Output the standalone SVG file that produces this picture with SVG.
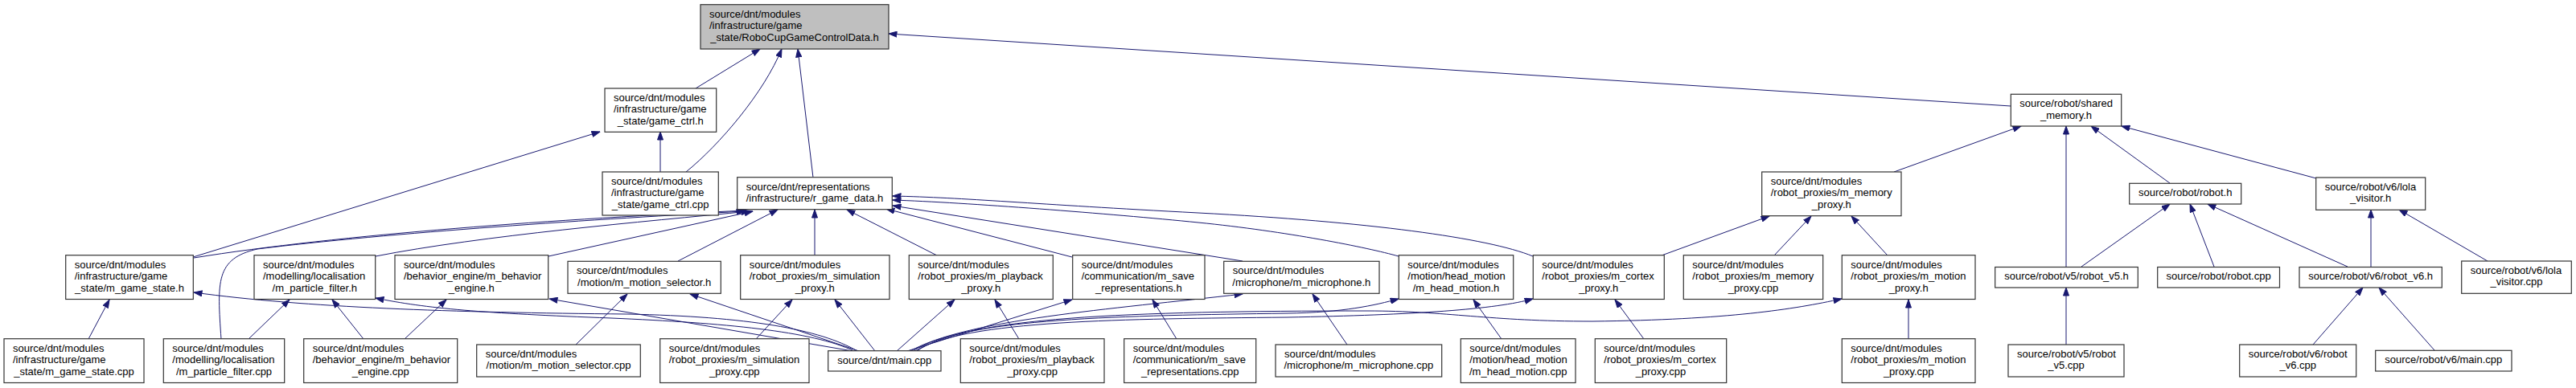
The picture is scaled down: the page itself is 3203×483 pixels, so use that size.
<svg xmlns="http://www.w3.org/2000/svg" width="3203" height="483" viewBox="0 0 3203 483">
<style>
.n rect{fill:#fff;stroke:#333;stroke-width:1.2}
.n text{font-family:"Liberation Sans",Arial,sans-serif;font-size:13px;fill:#000}
.n text.m{text-anchor:middle}
#edges path{fill:none;stroke:#191970;stroke-width:1;marker-end:url(#a)}
</style>
<defs>
<marker id="a" markerUnits="userSpaceOnUse" markerWidth="11" markerHeight="8" viewBox="0 0 11 8" refX="10.5" refY="4" orient="auto">
<path d="M0.5,0.5 L10.5,4 L0.5,7.5 z" fill="#191970" stroke="#191970" stroke-width="1"/>
</marker>
</defs>
<rect width="3203" height="483" fill="#fff"/>
<g id="edges">
<path d="M865,110 L945,61"/>
<path d="M853,214 C895,180 950,115 972,61"/>
<path d="M1011,221 L992,61"/>
<path d="M2500,132 L1105,42"/>
<path d="M240,320 L746,164"/>
<path d="M821,214 L821,164"/>
<path d="M241,321 C420,292 700,272 928,262"/>
<path d="M275,422 C270,350 268,322 320,310 C480,290 750,272 926,263"/>
<path d="M467,319 C600,293 800,276 932,263"/>
<path d="M682,319 L936,263"/>
<path d="M843,325 L967,261"/>
<path d="M1013,318 L1013,261"/>
<path d="M1165,318 L1053,261"/>
<path d="M1333,320 L1102,260"/>
<path d="M1545,325 L1110,256"/>
<path d="M1739,319 C1700,308 1600,288 1490,277 S1200,252 1110,249"/>
<path d="M1906,319 C1850,296 1700,276 1490,265 S1200,246 1110,244"/>
<path d="M1066,437 C1020,410 930,394 780,391 C560,389 380,383 241,364"/>
<path d="M1062,437 C1010,412 900,402 760,396 C600,390 530,384 467,371"/>
<path d="M1060,437 L683,372"/>
<path d="M1068,437 L858,366"/>
<path d="M1088,437 L1038,373"/>
<path d="M1115,437 L1187,373"/>
<path d="M1128,437 L1333,373"/>
<path d="M1132,437 C1200,398 1380,385 1545,366"/>
<path d="M1135,437 C1200,395 1400,393 1600,390 C1670,389 1710,380 1739,372"/>
<path d="M1138,437 C1200,398 1400,397 1600,395 C1760,392 1860,385 1906,372"/>
<path d="M1140,437 C1200,395 1400,387 1700,387 C1800,387 1850,400 1980,400 C2150,398 2230,385 2290,372"/>
<path d="M110,422 L136,373"/>
<path d="M309,422 L360,373"/>
<path d="M452,422 L413,373"/>
<path d="M503,422 L555,373"/>
<path d="M716,429 L780,366"/>
<path d="M940,422 L985,373"/>
<path d="M1267,422 L1237,373"/>
<path d="M1463,422 L1433,373"/>
<path d="M1675,429 L1632,366"/>
<path d="M1867,422 L1832,373"/>
<path d="M2044,422 L2008,373"/>
<path d="M2373,422 L2373,373"/>
<path d="M2066,318 L2200,269"/>
<path d="M2206,318 L2252,269"/>
<path d="M2347,318 L2302,269"/>
<path d="M2355,214 L2513,157"/>
<path d="M2569,333 L2569,157"/>
<path d="M2698,228 L2600,157"/>
<path d="M2880,222 L2638,157"/>
<path d="M2588,332 L2698,254"/>
<path d="M2753,332 L2723,254"/>
<path d="M2919,332 L2745,254"/>
<path d="M2948,332 L2948,261"/>
<path d="M3093,325 L2983,261"/>
<path d="M2569,429 L2569,358"/>
<path d="M2876,429 L2938,358"/>
<path d="M3027,436 L2958,358"/>
</g>
<g id="n_robocup" class="n"><rect x="871" y="5.7" width="234" height="55.3" style="fill:#bfbfbf"/><text x="882" y="21.5">source/dnt/modules</text><text x="882" y="36">/infrastructure/game</text><text class="m" x="988" y="50.5">_state/RoboCupGameControlData.h</text></g>
<g id="n_game_ctrl_h" class="n"><rect x="752" y="110" width="138.7" height="54.3"/><text x="763" y="125.8">source/dnt/modules</text><text x="763" y="140.3">/infrastructure/game</text><text class="m" x="821.3" y="154.8">_state/game_ctrl.h</text></g>
<g id="n_game_ctrl_cpp" class="n"><rect x="749" y="214" width="144.3" height="54"/><text x="760" y="229.8">source/dnt/modules</text><text x="760" y="244.3">/infrastructure/game</text><text class="m" x="821.2" y="258.8">_state/game_ctrl.cpp</text></g>
<g id="n_r_game_data" class="n"><rect x="916.7" y="220.7" width="192.6" height="40"/><text x="927.7" y="236.5">source/dnt/representations</text><text class="m" x="1013" y="251">/infrastructure/r_game_data.h</text></g>
<g id="n_shared_memory" class="n"><rect x="2500.3" y="117.3" width="137.4" height="39.7"/><text x="2511.3" y="133.1">source/robot/shared</text><text class="m" x="2569" y="147.6">_memory.h</text></g>
<g id="n_m_memory_proxy_h" class="n"><rect x="2190.7" y="214" width="173.3" height="54.7"/><text x="2201.7" y="229.8">source/dnt/modules</text><text x="2201.7" y="244.3">/robot_proxies/m_memory</text><text class="m" x="2277.3" y="258.8">_proxy.h</text></g>
<g id="n_robot_h" class="n"><rect x="2647.7" y="228.3" width="139" height="25.7"/><text class="m" x="2717.2" y="244.1">source/robot/robot.h</text></g>
<g id="n_lola_visitor_h" class="n"><rect x="2879.7" y="221" width="136" height="40.3"/><text x="2890.7" y="236.8">source/robot/v6/lola</text><text class="m" x="2947.7" y="251.3">_visitor.h</text></g>
<g id="n_m_game_state_h" class="n"><rect x="81.7" y="317.7" width="158.6" height="54.8"/><text x="92.7" y="333.5">source/dnt/modules</text><text x="92.7" y="348">/infrastructure/game</text><text class="m" x="161" y="362.5">_state/m_game_state.h</text></g>
<g id="n_m_particle_filter_h" class="n"><rect x="316" y="317.7" width="150.7" height="54.8"/><text x="327" y="333.5">source/dnt/modules</text><text x="327" y="348">/modelling/localisation</text><text class="m" x="391.3" y="362.5">/m_particle_filter.h</text></g>
<g id="n_m_behavior_engine_h" class="n"><rect x="491" y="317.7" width="190.7" height="54.8"/><text x="502" y="333.5">source/dnt/modules</text><text x="502" y="348">/behavior_engine/m_behavior</text><text class="m" x="586.3" y="362.5">_engine.h</text></g>
<g id="n_m_motion_selector_h" class="n"><rect x="706" y="325.3" width="190.3" height="40"/><text x="717" y="341.1">source/dnt/modules</text><text class="m" x="801.2" y="355.6">/motion/m_motion_selector.h</text></g>
<g id="n_m_simulation_proxy_h" class="n"><rect x="920.7" y="317.7" width="185.3" height="54.8"/><text x="931.7" y="333.5">source/dnt/modules</text><text x="931.7" y="348">/robot_proxies/m_simulation</text><text class="m" x="1013.3" y="362.5">_proxy.h</text></g>
<g id="n_m_playback_proxy_h" class="n"><rect x="1130.3" y="317.7" width="179" height="54.8"/><text x="1141.3" y="333.5">source/dnt/modules</text><text x="1141.3" y="348">/robot_proxies/m_playback</text><text class="m" x="1219.8" y="362.5">_proxy.h</text></g>
<g id="n_m_save_representations_h" class="n"><rect x="1333.7" y="317.7" width="164.3" height="54.8"/><text x="1344.7" y="333.5">source/dnt/modules</text><text x="1344.7" y="348">/communication/m_save</text><text class="m" x="1415.8" y="362.5">_representations.h</text></g>
<g id="n_m_microphone_h" class="n"><rect x="1521.7" y="325.3" width="193.3" height="40"/><text x="1532.7" y="341.1">source/dnt/modules</text><text class="m" x="1618.3" y="355.6">/microphone/m_microphone.h</text></g>
<g id="n_m_head_motion_h" class="n"><rect x="1739.3" y="317.7" width="142.4" height="54.8"/><text x="1750.3" y="333.5">source/dnt/modules</text><text x="1750.3" y="348">/motion/head_motion</text><text class="m" x="1810.5" y="362.5">/m_head_motion.h</text></g>
<g id="n_m_cortex_proxy_h" class="n"><rect x="1906.3" y="317.7" width="163" height="54.8"/><text x="1917.3" y="333.5">source/dnt/modules</text><text x="1917.3" y="348">/robot_proxies/m_cortex</text><text class="m" x="1987.8" y="362.5">_proxy.h</text></g>
<g id="n_m_memory_proxy_cpp" class="n"><rect x="2093.3" y="317.7" width="173.4" height="54.8"/><text x="2104.3" y="333.5">source/dnt/modules</text><text x="2104.3" y="348">/robot_proxies/m_memory</text><text class="m" x="2180" y="362.5">_proxy.cpp</text></g>
<g id="n_m_motion_proxy_h" class="n"><rect x="2290.3" y="317.7" width="165.7" height="54.8"/><text x="2301.3" y="333.5">source/dnt/modules</text><text x="2301.3" y="348">/robot_proxies/m_motion</text><text class="m" x="2373.2" y="362.5">_proxy.h</text></g>
<g id="n_robot_v5_h" class="n"><rect x="2480.7" y="332.5" width="177.6" height="25.5"/><text class="m" x="2569.5" y="348.3">source/robot/v5/robot_v5.h</text></g>
<g id="n_robot_cpp" class="n"><rect x="2682.7" y="332.5" width="151.8" height="25.5"/><text class="m" x="2758.6" y="348.3">source/robot/robot.cpp</text></g>
<g id="n_robot_v6_h" class="n"><rect x="2859" y="332.5" width="177.3" height="25.5"/><text class="m" x="2947.7" y="348.3">source/robot/v6/robot_v6.h</text></g>
<g id="n_lola_visitor_cpp" class="n"><rect x="3060.7" y="325" width="136.6" height="40.3"/><text x="3071.7" y="340.8">source/robot/v6/lola</text><text class="m" x="3129" y="355.3">_visitor.cpp</text></g>
<g id="n_m_game_state_cpp" class="n"><rect x="5" y="421.7" width="174" height="54.8"/><text x="16" y="437.5">source/dnt/modules</text><text x="16" y="452">/infrastructure/game</text><text class="m" x="92" y="466.5">_state/m_game_state.cpp</text></g>
<g id="n_m_particle_filter_cpp" class="n"><rect x="203.3" y="421.7" width="150.4" height="54.8"/><text x="214.3" y="437.5">source/dnt/modules</text><text x="214.3" y="452">/modelling/localisation</text><text class="m" x="278.5" y="466.5">/m_particle_filter.cpp</text></g>
<g id="n_m_behavior_engine_cpp" class="n"><rect x="377.7" y="421.7" width="191" height="54.8"/><text x="388.7" y="437.5">source/dnt/modules</text><text x="388.7" y="452">/behavior_engine/m_behavior</text><text class="m" x="473.2" y="466.5">_engine.cpp</text></g>
<g id="n_m_motion_selector_cpp" class="n"><rect x="592.7" y="429" width="203.6" height="40"/><text x="603.7" y="444.8">source/dnt/modules</text><text class="m" x="694.5" y="459.3">/motion/m_motion_selector.cpp</text></g>
<g id="n_m_simulation_proxy_cpp" class="n"><rect x="820.7" y="421.7" width="185.3" height="54.8"/><text x="831.7" y="437.5">source/dnt/modules</text><text x="831.7" y="452">/robot_proxies/m_simulation</text><text class="m" x="913.3" y="466.5">_proxy.cpp</text></g>
<g id="n_main_cpp" class="n"><rect x="1029.7" y="436.7" width="140.3" height="25.3"/><text class="m" x="1099.8" y="452.5">source/dnt/main.cpp</text></g>
<g id="n_m_playback_proxy_cpp" class="n"><rect x="1194.3" y="421.7" width="178.7" height="54.8"/><text x="1205.3" y="437.5">source/dnt/modules</text><text x="1205.3" y="452">/robot_proxies/m_playback</text><text class="m" x="1283.7" y="466.5">_proxy.cpp</text></g>
<g id="n_m_save_representations_cpp" class="n"><rect x="1397.7" y="421.7" width="164" height="54.8"/><text x="1408.7" y="437.5">source/dnt/modules</text><text x="1408.7" y="452">/communication/m_save</text><text class="m" x="1479.7" y="466.5">_representations.cpp</text></g>
<g id="n_m_microphone_cpp" class="n"><rect x="1586" y="429" width="206.7" height="40"/><text x="1597" y="444.8">source/dnt/modules</text><text class="m" x="1689.3" y="459.3">/microphone/m_microphone.cpp</text></g>
<g id="n_m_head_motion_cpp" class="n"><rect x="1816.3" y="421.7" width="142.7" height="54.8"/><text x="1827.3" y="437.5">source/dnt/modules</text><text x="1827.3" y="452">/motion/head_motion</text><text class="m" x="1887.7" y="466.5">/m_head_motion.cpp</text></g>
<g id="n_m_cortex_proxy_cpp" class="n"><rect x="1983.3" y="421.7" width="163.4" height="54.8"/><text x="1994.3" y="437.5">source/dnt/modules</text><text x="1994.3" y="452">/robot_proxies/m_cortex</text><text class="m" x="2065" y="466.5">_proxy.cpp</text></g>
<g id="n_m_motion_proxy_cpp" class="n"><rect x="2290.3" y="421.7" width="165.7" height="54.8"/><text x="2301.3" y="437.5">source/dnt/modules</text><text x="2301.3" y="452">/robot_proxies/m_motion</text><text class="m" x="2373.2" y="466.5">_proxy.cpp</text></g>
<g id="n_robot_v5_cpp" class="n"><rect x="2497" y="429" width="144" height="40"/><text x="2508" y="444.8">source/robot/v5/robot</text><text class="m" x="2569" y="459.3">_v5.cpp</text></g>
<g id="n_robot_v6_cpp" class="n"><rect x="2784.7" y="429" width="145" height="40"/><text x="2795.7" y="444.8">source/robot/v6/robot</text><text class="m" x="2857.2" y="459.3">_v6.cpp</text></g>
<g id="n_v6_main_cpp" class="n"><rect x="2953.7" y="436.3" width="169.3" height="25.7"/><text class="m" x="3038.3" y="452.1">source/robot/v6/main.cpp</text></g>
</svg>
